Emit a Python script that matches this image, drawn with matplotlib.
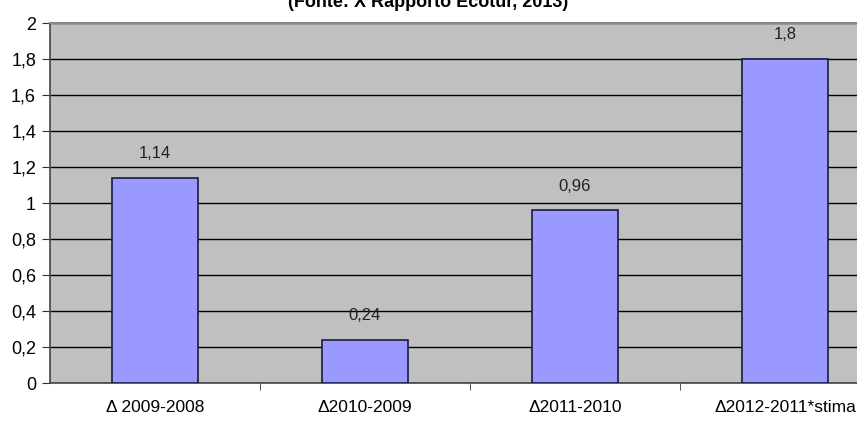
import numpy as np
import matplotlib.pyplot as plt

plt.rcParams['font.family'] = ['Liberation Sans', 'DejaVu Sans']

# dati
categorie = ['Δ 2009-2008', 'Δ2010-2009', 'Δ2011-2010', 'Δ2012-2011*stima']
valori = [1.14, 0.24, 0.96, 1.8]
etichette = ['1,14', '0,24', '0,96', '1,8']
yticks = [0, 0.2, 0.4, 0.6, 0.8, 1, 1.2, 1.4, 1.6, 1.8, 2]
ytick_labels = ['0', '0,2', '0,4', '0,6', '0,8', '1', '1,2', '1,4', '1,6', '1,8', '2']

fig = plt.figure(figsize=(8.57, 4.28), dpi=100)
ax = fig.add_axes([50 / 857, 45 / 428, 840 / 857, 360 / 428])
ax.set_facecolor('#c0c0c0')

x = np.arange(len(categorie))
ax.bar(x, valori, width=0.405, color='#9999ff', edgecolor='#1a1a40', linewidth=1.2, zorder=3)

# etichette sopra le barre
for xi, v, lab in zip(x, valori, etichette):
    ax.annotate(lab, (xi, v), xytext=(0, 12), textcoords='offset points',
                ha='center', va='bottom', fontsize=12, color='#222222')

ax.set_xlim(-0.5, 3.5)
ax.set_ylim(0, 2)
ax.set_yticks(yticks)
ax.set_yticklabels(ytick_labels, fontsize=13)
ax.yaxis.grid(True, color='black', linewidth=1.0, zorder=1)
ax.set_axisbelow(True)

ax.set_xticks(x)
ax.set_xticklabels(categorie, fontsize=12.5)
ax.set_xticks(np.arange(0.5, 3.5, 1), minor=True)
ax.tick_params(axis='x', which='major', length=0, pad=12)
ax.tick_params(axis='x', which='minor', length=5, color='#333333')
ax.tick_params(axis='y', length=6, color='#333333', pad=4)

for s in ['left', 'bottom']:
    ax.spines[s].set_color('#444444')
    ax.spines[s].set_linewidth(1.2)
ax.spines['top'].set_color('#888888')
ax.spines['top'].set_linewidth(1.5)
ax.spines['right'].set_visible(False)

fig.text(0.5, 0.995, '(Fonte: X Rapporto Ecotur, 2013)', ha='center', va='center',
         fontsize=13, fontweight='bold')

fig.savefig('out.png', dpi=100)
